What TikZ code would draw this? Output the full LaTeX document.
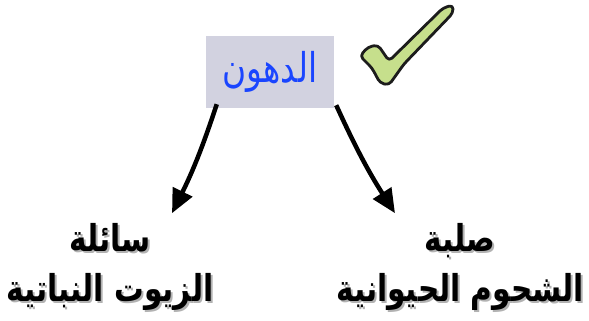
\documentclass[tikz,border=0pt]{standalone}
\usepackage{fontspec}
\usepackage{tikz}
\usetikzlibrary{arrows.meta}
\TeXXeTstate=1
\newfontfamily\arabicfont[Script=Arabic,FakeStretch=0.8]{DejaVu Sans}
\definecolor{boxgray}{HTML}{D2D2E0}
\definecolor{titleblue}{HTML}{1A45FF}
\definecolor{tickgreen}{HTML}{C6DF8C}
\definecolor{tickline}{HTML}{1C1C1C}
\tikzset{
  arrowline/.style={line width=4.5pt,-{Triangle[length=24pt,width=21pt]}},
  leaf/.style={align=center,inner sep=0pt,
    font=\arabicfont\bfseries\fontsize{37}{50}\selectfont},
  leafshadow/.style={leaf,text=black!30},
}

\begin{document}
\begin{tikzpicture}[x=1pt,y=-1pt]
  \useasboundingbox (0,0) rectangle (589,321);
  \node[fill=boxgray,minimum width=128pt,minimum height=72pt,text=titleblue,
    font=\arabicfont\fontsize{41}{42}\selectfont] (fats) at (270,72)
    {\beginR الدهون\endR};
  % text with a soft shadow
  \node[leafshadow] (liquidshadow) at (112,269)
    {\beginR سائلة\endR\\ \beginR الزيوت النباتية\endR};
  \node[leaf] (liquid) at (110,267)
    {\beginR سائلة\endR\\ \beginR الزيوت النباتية\endR};
  \node[leafshadow] (solidshadow) at (462,269)
    {\beginR صلبة\endR\\ \beginR الشحوم الحيوانية\endR};
  \node[leaf] (solid) at (460,267)
    {\beginR صلبة\endR\\ \beginR الشحوم الحيوانية\endR};
  \draw[arrowline] ([shift={(11,-4)}]fats.south west) to[bend left=4]
    ([shift={(62,-10)}]liquid.north);
  \draw[arrowline] ([shift={(2,-3)}]fats.south east) to[bend right=4]
    ([shift={(-65,-10)}]solid.north);
  % tick mark
  \draw[fill=tickgreen,draw=tickline,line width=2.8pt,line join=round,rounded corners=4pt]
    (360,56) -- (368,47) -- (378,45) -- (389,61) -- (443,8) -- (453,5)
    -- (453,13) -- (404,64) -- (389,85) -- (380,83) -- (372,68) -- cycle;
\end{tikzpicture}
\end{document}
